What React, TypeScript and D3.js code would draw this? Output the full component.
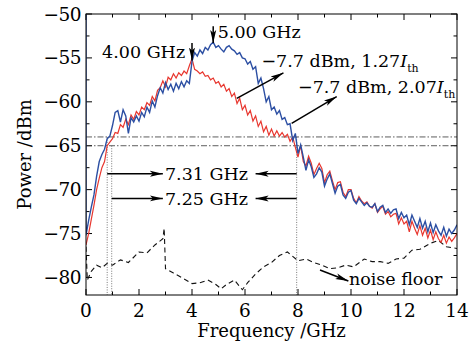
import { useEffect, useRef } from 'react'
import * as d3 from 'd3'

// spectra sampled every 0.1 GHz from 0 to 14 GHz
const freqStep = 0.1
const blueDbm = [
  -75.2, -73.5, -72.0, -70.6, -68.5, -66.8, -66.0, -65.4, -64.2, -63.9,
  -62.7, -61.2, -61.0, -62.3, -60.9, -61.6, -63.6, -61.8, -62.3, -61.6,
  -62.2, -61.2, -61.7, -60.6, -61.2, -59.9, -60.6, -59.3, -58.4, -59.0,
  -57.8, -58.6, -58.0, -58.8, -57.9, -58.5, -57.7, -58.3, -57.6, -57.9,
  -55.4, -54.4, -54.8, -54.1, -54.5, -53.8, -54.1, -53.5, -53.2, -53.8,
  -53.6, -54.0, -54.3, -53.8, -53.6, -54.0, -54.2, -54.6, -54.4, -55.0,
  -55.1, -55.7, -55.4, -56.3, -56.0, -57.9, -57.3, -58.5, -60.0, -59.4,
  -60.9, -60.6, -61.4, -61.0, -62.0, -61.8, -62.6, -62.5, -64.4, -63.6,
  -65.9, -64.9, -66.3, -67.8, -66.6, -67.4, -68.6, -68.2, -67.5, -68.0,
  -69.6, -68.8, -68.2, -69.3, -70.4, -69.6, -69.4, -70.6, -71.0, -70.3,
  -70.1, -71.2, -71.6, -71.0, -71.4, -71.8, -71.5, -71.9, -72.0, -71.6,
  -72.5, -72.0, -71.8, -72.6, -72.2, -72.7, -72.3, -72.2, -73.3, -72.6,
  -73.2, -72.9, -74.0, -72.9, -73.6, -74.3, -73.3, -74.4, -73.6, -74.8,
  -73.8, -74.9, -74.0, -74.7, -75.2, -74.3, -75.3, -74.5, -75.0, -74.6,
  -74.0,
]
const redDbm = [
  -76.3, -75.0, -73.4, -71.8, -70.0, -68.7, -67.5, -66.8, -65.0, -64.6,
  -64.2, -63.5, -63.6, -62.6, -62.9, -62.0, -62.6, -61.5, -62.0, -61.1,
  -61.5, -60.6, -60.9, -60.1, -60.4, -59.4, -59.9, -58.7, -58.4, -57.6,
  -58.3, -57.2, -57.5, -56.8, -57.3, -56.7, -57.0, -56.5, -56.8, -55.9,
  -55.1, -56.3, -56.5, -56.8, -56.6, -57.1, -57.0, -57.5, -57.3, -57.9,
  -57.7, -58.3, -58.0, -58.8, -58.5, -59.4, -59.0, -60.2, -59.6, -60.9,
  -60.4, -61.5, -61.0, -62.2, -61.6, -62.8, -62.2, -63.4, -62.8, -63.8,
  -63.1, -63.9, -63.3, -63.9, -63.5, -64.0, -63.7, -64.5, -64.0, -65.2,
  -66.3, -65.0, -66.8, -67.3, -66.2, -67.0, -68.3, -67.6, -67.0, -67.6,
  -69.2, -68.3, -67.9, -69.0, -70.0, -69.2, -69.1, -70.3, -70.8, -70.0,
  -70.0, -71.0, -71.5, -70.8, -71.3, -71.6, -71.4, -71.9, -72.1, -71.6,
  -72.6, -72.2, -71.9, -72.8, -72.5, -73.1, -72.8, -72.7, -73.9, -73.2,
  -73.9, -73.6, -74.8, -73.6, -74.4, -75.1, -74.1, -75.2, -74.4, -75.5,
  -74.6, -75.7, -74.8, -75.6, -76.0, -75.2, -76.1, -75.4, -75.9, -75.5,
  -75.0,
]
const dcSpikeDbm = -45

const noiseGhz = [0, 0.05, 0.2, 0.4, 0.6, 0.8, 1.0, 1.3, 1.6, 2.0, 2.3, 2.6, 2.9, 2.95, 3.0, 3.3, 3.6, 4.0, 4.3, 4.6, 4.9, 5.1, 5.3, 5.6, 5.9, 6.1, 6.4, 6.7, 7.0, 7.3, 7.6, 7.8, 8.0, 8.3, 8.6, 8.9, 9.2, 9.5, 9.8, 10.1, 10.5, 10.8, 11.1, 11.4, 11.7, 12.0, 12.3, 12.6, 13.0, 13.3, 13.6, 14.0]
const noiseDbm = [-76.5, -80.3, -79.3, -78.6, -78.9, -78.4, -78.6, -78.0, -78.3, -77.1, -77.2, -76.3, -75.6, -74.4, -79.0, -79.5, -80.0, -80.7, -80.6, -80.3, -80.8, -81.3, -80.8, -80.3, -81.4, -80.6, -79.6, -78.8, -78.3, -77.5, -77.1, -77.6, -78.1, -77.9, -78.3, -78.6, -79.0, -78.9, -78.6, -78.8, -77.9, -78.2, -78.2, -78.4, -77.9, -77.8, -76.9, -76.8, -76.1, -75.8, -76.5, -76.7]

const xTicks = [0, 2, 4, 6, 8, 10, 12, 14]
const yTicks = [-80, -75, -70, -65, -60, -55, -50]
const refLevels = [-64, -65]
const bwMarks = [0.8, 0.97, 7.95]

const BLUE = '#2c4fa3'
const RED = '#e8372f'
const FONT = 'DejaVu Serif, serif'

const Chart = () => {
  const ref = useRef<SVGSVGElement | null>(null)
  useEffect(() => {
    const el = ref.current
    if (!el) return
    const width = 470, height = 345
    const margin = { top: 14, right: 13, bottom: 50, left: 86 }
    const svg = d3.select(el)
    const x = d3.scaleLinear().domain([0, 14]).range([margin.left, width - margin.right])
    const y = d3.scaleLinear().domain([-82, -50]).range([height - margin.bottom, margin.top])
    const [x0, x1] = x.range()
    const [y0, y1] = y.range()

    const defs = svg.append('defs')
    defs.append('clipPath').attr('id', 'plot').append('rect')
      .attr('x', x0).attr('y', y1).attr('width', x1 - x0).attr('height', y0 - y1)
    defs.append('marker').attr('id', 'head').attr('markerUnits', 'userSpaceOnUse')
      .attr('markerWidth', 14).attr('markerHeight', 8).attr('refX', 13).attr('refY', 4)
      .attr('orient', 'auto')
      .append('path').attr('d', 'M0,1 L13,4 L0,7 L3,4 z').attr('fill', '#000')

    // ticks, inward on all four sides
    const g = svg.append('g')
    const minorX = d3.range(0, 14.01, 1)
    const minorY = d3.range(-80, -49.9, 2.5)
    minorX.forEach(v => {
      const len = v % 2 === 0 ? 6 : 3.5
      g.append('line').attr('x1', x(v)).attr('x2', x(v)).attr('y1', y0).attr('y2', y0 - len).attr('stroke', '#000')
      g.append('line').attr('x1', x(v)).attr('x2', x(v)).attr('y1', y1).attr('y2', y1 + len).attr('stroke', '#000')
    })
    minorY.forEach(v => {
      const len = v % 5 === 0 ? 6 : 3.5
      g.append('line').attr('y1', y(v)).attr('y2', y(v)).attr('x1', x0).attr('x2', x0 + len).attr('stroke', '#000')
      g.append('line').attr('y1', y(v)).attr('y2', y(v)).attr('x1', x1).attr('x2', x1 - len).attr('stroke', '#000')
    })

    // tick labels
    svg.append('g').selectAll('text').data(xTicks).join('text')
      .attr('x', (d: number) => x(d)).attr('y', y0 + 22)
      .attr('text-anchor', 'middle').attr('font-family', FONT).attr('font-size', 18.5)
      .text((d: number) => String(d))
    svg.append('g').selectAll('text').data(yTicks).join('text')
      .attr('x', x0 - 5).attr('y', (d: number) => y(d) + 6.5)
      .attr('text-anchor', 'end').attr('font-family', FONT).attr('font-size', 18.5)
      .attr('letter-spacing', -0.5)
      .text((d: number) => '\u2212' + Math.abs(d))

    svg.append('text').attr('x', (x0 + x1) / 2).attr('y', 337).attr('text-anchor', 'middle')
      .attr('font-family', FONT).attr('font-size', 18).text('Frequency /GHz')
    svg.append('text').attr('transform', `translate(31,${(y0 + y1) / 2}) rotate(-90)`)
      .attr('text-anchor', 'middle').attr('font-family', FONT).attr('font-size', 18).text('Power /dBm')

    const plot = svg.append('g').attr('clip-path', 'url(#plot)')

    // reference levels (dash-dot) and bandwidth marks (dotted)
    refLevels.forEach(v => {
      plot.append('line').attr('x1', x0).attr('x2', x1).attr('y1', y(v)).attr('y2', y(v))
        .attr('stroke', '#333').attr('stroke-width', 0.8).attr('stroke-dasharray', '6,2,1.5,2')
    })
    bwMarks.forEach((v, i) => {
      plot.append('line').attr('x1', x(v)).attr('x2', x(v)).attr('y1', y(i === 1 ? -65 : -64)).attr('y2', y0)
        .attr('stroke', '#555').attr('stroke-width', 0.8).attr('stroke-dasharray', '1,1.5')
    })

    // noise floor
    const noise = noiseGhz.map((f, i) => [f, noiseDbm[i]] as [number, number])
    const line = d3.line<[number, number]>().x((d: [number, number]) => x(d[0])).y((d: [number, number]) => y(d[1]))
    plot.append('path').datum(noise).attr('fill', 'none').attr('stroke', '#111').attr('stroke-width', 1.1)
      .attr('stroke-dasharray', '5,3.5').attr('d', line as any)

    const red = redDbm.map((p, i) => [i * freqStep, p] as [number, number])
    const blue = [[0, dcSpikeDbm] as [number, number]].concat(blueDbm.map((p, i) => [i * freqStep, p] as [number, number]))
    plot.append('path').datum(red).attr('fill', 'none').attr('stroke', RED).attr('stroke-width', 1.2).attr('d', line as any)
    plot.append('path').datum(blue).attr('fill', 'none').attr('stroke', BLUE).attr('stroke-width', 1.4).attr('d', line as any)

    // frame
    svg.append('rect').attr('x', x0).attr('y', y1).attr('width', x1 - x0).attr('height', y0 - y1)
      .attr('fill', 'none').attr('stroke', '#000').attr('stroke-width', 1)

    // annotations
    const arrow = (fa: number, pa: number, fb: number, pb: number) =>
      svg.append('line').attr('x1', x(fa)).attr('y1', y(pa)).attr('x2', x(fb)).attr('y2', y(pb))
        .attr('stroke', '#000').attr('stroke-width', 1.5).attr('marker-end', 'url(#head)')
    const label = (f: number, p: number, s: string, anchor = 'start') =>
      svg.append('text').attr('x', x(f)).attr('y', y(p)).attr('text-anchor', anchor)
        .attr('font-family', FONT).attr('font-size', 17.5).text(s)

    arrow(4.0, -53.3, 4.0, -55.3)
    label(3.74, -55.0, '4.00 GHz', 'end')
    arrow(4.8, -51.4, 4.8, -53.3)
    label(4.97, -52.7, '5.00 GHz')

    const ith = (f: number, p: number, s: string) => {
      const t = label(f, p, s)
      t.append('tspan').attr('font-style', 'italic').text('I')
      t.append('tspan').attr('font-size', 11).attr('dy', 5).text('th')
    }
    ith(6.62, -56.0, '\u22127.7 dBm, 1.27')
    arrow(5.69, -59.6, 7.45, -56.7)
    ith(8.0, -59.0, '\u22127.7 dBm, 2.07')
    arrow(7.76, -62.45, 9.46, -59.4)

    arrow(0.8, -68.2, 2.9, -68.2)
    arrow(7.95, -68.2, 6.4, -68.2)
    label(2.98, -68.9, '7.31 GHz')
    arrow(0.97, -71.0, 2.9, -71.0)
    arrow(7.95, -71.0, 6.4, -71.0)
    label(2.98, -71.7, '7.25 GHz')

    arrow(8.83, -79.15, 9.9, -80.4)
    label(9.92, -80.9, 'noise floor')

    return () => { svg.selectAll('*').remove() }
  }, [])
  return <svg ref={ref} width={470} height={345} style={{ display: 'block', background: '#fff' }} />
}

const App = () => {
  useEffect(() => { document.body.style.margin = '0' }, [])
  return <Chart />
}

export default App
